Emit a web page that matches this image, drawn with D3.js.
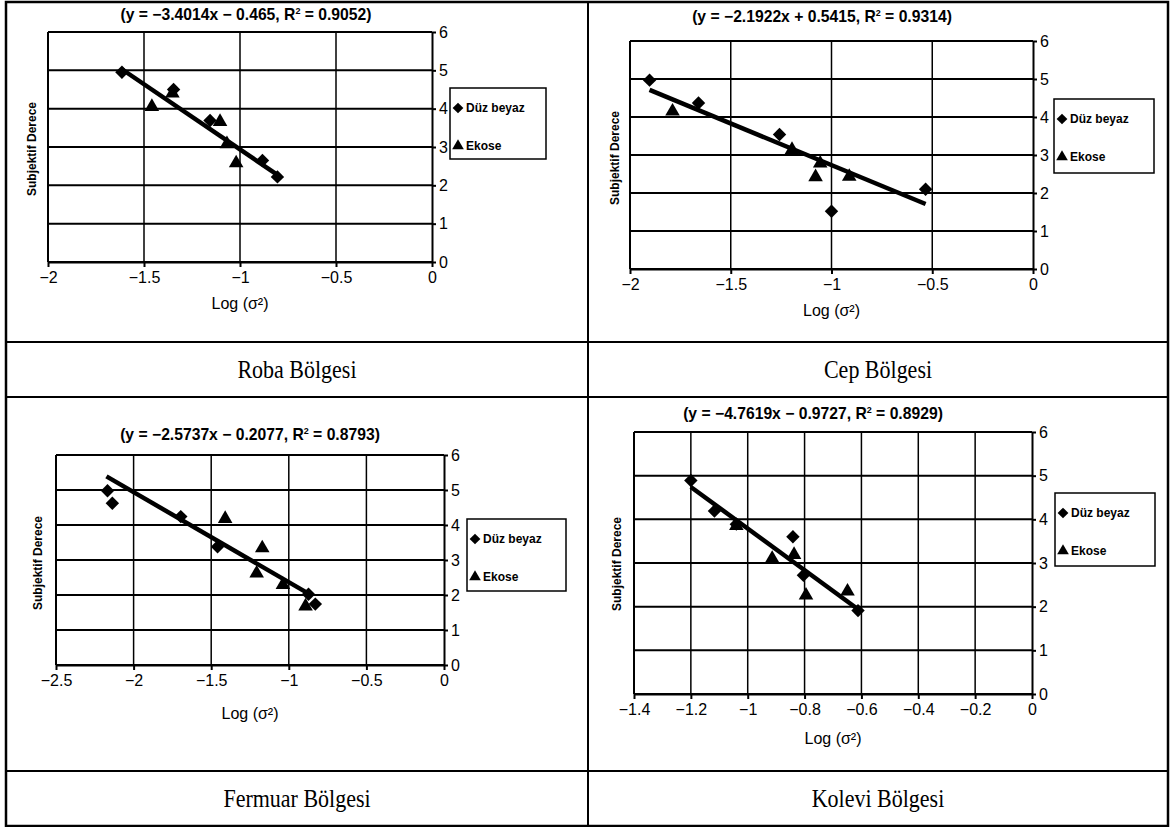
<html>
<meta charset="utf-8">
<style>
body { margin: 0; background: #fff; }
svg { display: block; }
.grid line { stroke: #000; }
.axis path, .axis line { stroke: #000; stroke-width: 2; }
.axis text { font: 16px "Liberation Sans", Arial, sans-serif; fill: #000; }
.title { font: bold 15.7px "Liberation Sans", Arial, sans-serif; }
.ylab { font: bold 12px "Liberation Sans", Arial, sans-serif; }
.xlab { font: 16px "Liberation Sans", Arial, sans-serif; }
.leg text { font: bold 12px "Liberation Sans", Arial, sans-serif; }
.caption { font: 25px "Liberation Serif", "Times New Roman", serif; }
</style>
<body>
<script src="https://cdn.jsdelivr.net/npm/d3@7"></script>
<script>

/*******************
data
********************/
var captions = ["Roba Bölgesi", "Cep Bölgesi", "Fermuar Bölgesi", "Kolevi Bölgesi"];
var slopes = [-3.4014, -2.1922, -2.5737, -4.7619];
var intercepts = [-0.465, 0.5415, -0.2077, -0.9727];
var r2 = [0.9052, 0.9314, 0.8793, 0.8929];
var series = ["Düz beyaz", "Ekose"];
var yTicks = [0, 1, 2, 3, 4, 5, 6];
var xTicks = [
    [-2, -1.5, -1, -0.5, 0],
    [-2, -1.5, -1, -0.5, 0],
    [-2.5, -2, -1.5, -1, -0.5, 0],
    [-1.4, -1.2, -1, -0.8, -0.6, -0.4, -0.2, 0]
];

// [log(sigma^2), subjektif derece]
var robaDuz = [[-1.615, 4.95], [-1.346, 4.50], [-1.156, 3.69], [-0.883, 2.65], [-0.805, 2.22]];
var robaEkose = [[-1.459, 4.05], [-1.352, 4.40], [-1.104, 3.66], [-1.068, 3.08], [-1.02, 2.58]];
var cepDuz = [[-1.903, 4.97], [-1.66, 4.37], [-1.258, 3.54], [-1.0, 1.52], [-0.533, 2.10]];
var cepEkose = [[-1.789, 4.15], [-1.196, 3.14], [-1.056, 2.78], [-1.079, 2.42], [-0.912, 2.43]];
var fermuarDuz = [[-2.168, 4.98], [-2.137, 4.62], [-1.696, 4.24], [-1.459, 3.38], [-0.873, 2.02], [-0.829, 1.74]];
var fermuarEkose = [[-1.41, 4.18], [-1.171, 3.34], [-1.207, 2.62], [-1.038, 2.29], [-0.892, 1.68]];
var koleviDuz = [[-1.2, 4.89], [-1.117, 4.19], [-1.04, 3.89], [-0.841, 3.60], [-0.804, 2.72], [-0.612, 1.91]];
var koleviEkose = [[-1.04, 3.85], [-0.914, 3.10], [-0.837, 3.19], [-0.795, 2.26], [-0.649, 2.35]];

// trendline spans, as drawn
var fitRanges = [[-1.615, -0.805], [-1.903, -0.533], [-2.175, -0.87], [-1.2, -0.612]];

var duz = [robaDuz, cepDuz, fermuarDuz, koleviDuz];
var ekose = [robaEkose, cepEkose, fermuarEkose, koleviEkose];

/*******************
layout
********************/
var width = 1170, height = 827;

// table lines
var tLeft = 6, tRight = 1168, tTop = 2, tBottom = 826, tMid = 588;
var rowLines = [342, 397, 771];

var boxes = [
    {x0: 48, x1: 432, yT: 32, yB: 262, tx: 246, ty: 15, ll: 303, yl: 32, ylc: 149, lg: [450, 88, 96, 71], cap: 369},
    {x0: 630, x1: 1033, yT: 41, yB: 269, tx: 822, ty: 17, ll: 310, yl: 615, ylc: 158, lg: [1054, 99, 100, 74], cap: 369},
    {x0: 56, x1: 444, yT: 455, yB: 665, tx: 250, ty: 435, ll: 713, yl: 38, ylc: 563, lg: [467, 519, 99, 72], cap: 798},
    {x0: 634, x1: 1032, yT: 432, yB: 694, tx: 813, ty: 414, ll: 738, yl: 617, ylc: 564, lg: [1055, 493, 100, 73], cap: 798}
];

var svg = d3.select("body").append("svg")
    .attr("width", width)
    .attr("height", height);

svg.append("rect").attr("width", width).attr("height", height).attr("fill", "#fff");

function num(v) { return String(Math.abs(v)); }
function tickFmt(v) { return v === 0 ? "0" : "\u2212" + Math.abs(v); }

var diamond = d3.symbol().type(d3.symbolDiamond2).size(115);
var triangle = d3.symbol().type(d3.symbolTriangle).size(92);

boxes.forEach(function(b, i) {
    var g = svg.append("g");
    var xt = xTicks[i];
    var x = d3.scaleLinear().domain([xt[0], 0]).range([b.x0, b.x1]);
    var y = d3.scaleLinear().domain([0, 6]).range([b.yB, b.yT]);

    // grid
    g.append("g").attr("class", "grid").selectAll("line")
        .data(yTicks).join("line")
        .attr("x1", b.x0).attr("x2", b.x1)
        .attr("y1", y).attr("y2", y)
        .attr("stroke-width", 2);
    g.append("g").attr("class", "grid").selectAll("line")
        .data(xt.slice(1, -1)).join("line")
        .attr("x1", x).attr("x2", x)
        .attr("y1", b.yT).attr("y2", b.yB)
        .attr("stroke-width", 1.5);
    g.append("line")
        .attr("x1", b.x0).attr("x2", b.x0)
        .attr("y1", b.yT).attr("y2", b.yB)
        .attr("stroke", "#000").attr("stroke-width", 2);

    // axes
    g.append("g").attr("class", "axis")
        .attr("transform", "translate(0," + b.yB + ")")
        .call(d3.axisBottom(x).tickValues(xt).tickSize(5).tickSizeOuter(0).tickPadding(5).tickFormat(tickFmt));
    g.append("g").attr("class", "axis")
        .attr("transform", "translate(" + b.x1 + ",0)")
        .call(d3.axisRight(y).tickValues(yTicks).tickSize(4).tickSizeOuter(0).tickPadding(3).tickFormat(d3.format("d")));

    // title
    var t = g.append("text").attr("class", "title")
        .attr("x", b.tx).attr("y", b.ty + 5)
        .attr("text-anchor", "middle");
    t.append("tspan").text("(y = " + (slopes[i] < 0 ? "\u2212" : "") + num(slopes[i]) + "x " +
        (intercepts[i] < 0 ? "\u2212 " : "+ ") + num(intercepts[i]) + ", R");
    t.append("tspan").attr("dy", -6).attr("font-size", 9).text("2");
    t.append("tspan").attr("dy", 6).text(" = " + num(r2[i]) + ")");

    // axis labels
    g.append("text").attr("class", "xlab")
        .attr("x", (b.x0 + b.x1) / 2).attr("y", b.ll + 6)
        .attr("text-anchor", "middle")
        .text("Log (\u03c3\u00b2)");
    g.append("text").attr("class", "ylab")
        .attr("transform", "translate(" + (b.yl + 4) + "," + b.ylc + ") rotate(-90)")
        .attr("text-anchor", "middle")
        .text("Subjektif Derece");

    // trendline
    var ext = fitRanges[i];
    var f = function(v) { return slopes[i] * v + intercepts[i]; };
    g.append("line")
        .attr("x1", x(ext[0])).attr("y1", y(f(ext[0])))
        .attr("x2", x(ext[1])).attr("y2", y(f(ext[1])))
        .attr("stroke", "#000").attr("stroke-width", 4.5);

    // markers
    g.selectAll(".ek").data(ekose[i]).join("path").attr("class", "ek")
        .attr("d", triangle)
        .attr("transform", function(d) { return "translate(" + x(d[0]) + "," + y(d[1]) + ")"; });
    g.selectAll(".dz").data(duz[i]).join("path").attr("class", "dz")
        .attr("d", diamond)
        .attr("transform", function(d) { return "translate(" + x(d[0]) + "," + y(d[1]) + ")"; });

    // legend
    var lg = g.append("g").attr("class", "leg").attr("transform", "translate(" + b.lg[0] + "," + b.lg[1] + ")");
    lg.append("rect").attr("width", b.lg[2]).attr("height", b.lg[3])
        .attr("fill", "#fff").attr("stroke", "#000").attr("stroke-width", 1.5);
    [diamond, triangle].forEach(function(sym, k) {
        var yy = k === 0 ? 20 : 58;
        lg.append("path").attr("d", sym).attr("transform", "translate(8," + yy + ") scale(0.8)");
        lg.append("text").attr("x", 16).attr("y", yy + 4).text(series[k]);
    });

    // caption
    var cx = i % 2 === 0 ? (tLeft + tMid) / 2 : (tMid + tRight) / 2;
    svg.append("text").attr("class", "caption")
        .attr("transform", "translate(" + cx + "," + (b.cap + 9) + ") scale(0.88,1)")
        .attr("text-anchor", "middle")
        .text(captions[i]);
});

// table
var tg = svg.append("g").attr("stroke", "#000").attr("fill", "none");
tg.append("rect").attr("x", tLeft).attr("y", tTop)
    .attr("width", tRight - tLeft).attr("height", tBottom - tTop).attr("stroke-width", 2.5);
tg.append("line").attr("x1", tMid).attr("x2", tMid).attr("y1", tTop).attr("y2", tBottom).attr("stroke-width", 2);
tg.selectAll(".rl").data(rowLines).join("line").attr("class", "rl")
    .attr("x1", tLeft).attr("x2", tRight).attr("y1", function(d) { return d; }).attr("y2", function(d) { return d; })
    .attr("stroke-width", 2);
</script>
</html>
